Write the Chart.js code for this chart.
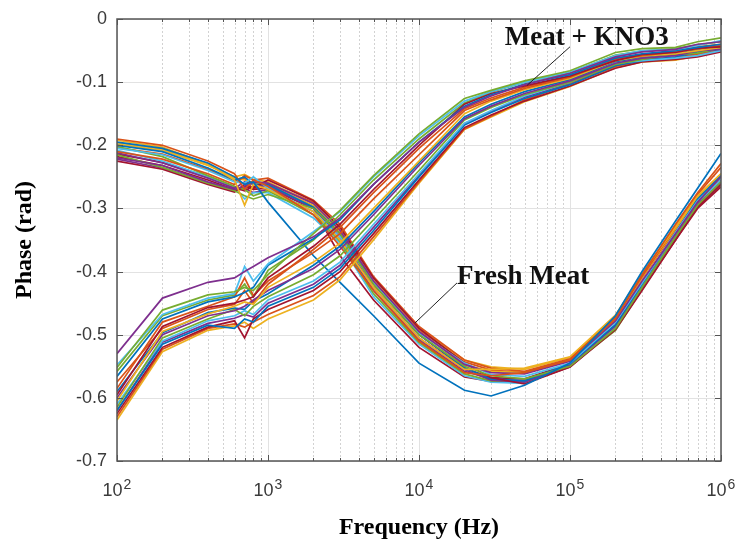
<!DOCTYPE html>
<html>
<head>
<meta charset="utf-8">
<script src="https://cdn.jsdelivr.net/npm/chart.js@4.4.0/dist/chart.umd.min.js"></script>
<style>
  html, body { margin: 0; padding: 0; background: #fff; }
  #wrap { width: 736px; height: 544px; }
</style>
</head>
<body>
<div id="wrap"><canvas id="phaseChart" width="736" height="544"></canvas></div>
<script>
// sweep frequencies (Hz)
const freqs = [100, 200, 400, 600, 700, 800, 1000, 2000, 3000, 5000,
  1e4, 2e4, 3e4, 5e4, 1e5, 2e5, 3e5, 5e5, 7e5, 1e6];

const yTicks = [-0.7, -0.6, -0.5, -0.4, -0.3, -0.2, -0.1, 0];
const xDecades = [1e2, 1e3, 1e4, 1e5, 1e6];
const xTickLabels = [['10', '2'], ['10', '3'], ['10', '4'], ['10', '5'], ['10', '6']];

// Meat + KNO3 samples, phase (rad)
const kno3Series = [
  [-0.530, -0.442, -0.417, -0.410, -0.400, -0.392, -0.378, -0.345, -0.315, -0.262, -0.195, -0.140, -0.122, -0.104, -0.086, -0.060, -0.052, -0.048, -0.040, -0.036],
  [-0.552, -0.461, -0.437, -0.432, -0.425, -0.430, -0.405, -0.340, -0.303, -0.248, -0.182, -0.126, -0.113, -0.098, -0.082, -0.053, -0.047, -0.045, -0.036, -0.030],
  [-0.548, -0.468, -0.442, -0.435, -0.392, -0.415, -0.388, -0.337, -0.305, -0.250, -0.185, -0.130, -0.115, -0.100, -0.084, -0.058, -0.050, -0.048, -0.042, -0.034],
  [-0.566, -0.475, -0.448, -0.440, -0.433, -0.425, -0.390, -0.348, -0.318, -0.262, -0.195, -0.138, -0.120, -0.103, -0.088, -0.062, -0.055, -0.050, -0.045, -0.040],
  [-0.595, -0.487, -0.457, -0.450, -0.445, -0.440, -0.410, -0.360, -0.325, -0.270, -0.200, -0.135, -0.118, -0.106, -0.090, -0.066, -0.056, -0.053, -0.046, -0.044],
  [-0.585, -0.480, -0.455, -0.440, -0.410, -0.438, -0.415, -0.370, -0.340, -0.285, -0.215, -0.145, -0.128, -0.110, -0.092, -0.064, -0.058, -0.052, -0.047, -0.042],
  [-0.605, -0.495, -0.467, -0.455, -0.448, -0.452, -0.425, -0.385, -0.355, -0.300, -0.225, -0.150, -0.130, -0.112, -0.094, -0.066, -0.059, -0.055, -0.050, -0.045],
  [-0.600, -0.500, -0.470, -0.462, -0.455, -0.445, -0.430, -0.395, -0.365, -0.310, -0.232, -0.158, -0.138, -0.118, -0.098, -0.070, -0.062, -0.058, -0.050, -0.048],
  [-0.615, -0.505, -0.475, -0.460, -0.470, -0.455, -0.440, -0.405, -0.375, -0.318, -0.240, -0.160, -0.140, -0.120, -0.100, -0.072, -0.064, -0.056, -0.054, -0.046],
  [-0.610, -0.510, -0.478, -0.470, -0.462, -0.468, -0.445, -0.415, -0.385, -0.325, -0.245, -0.165, -0.145, -0.122, -0.100, -0.070, -0.066, -0.062, -0.058, -0.050],
  [-0.620, -0.515, -0.485, -0.490, -0.475, -0.480, -0.455, -0.425, -0.395, -0.335, -0.250, -0.168, -0.148, -0.126, -0.104, -0.074, -0.066, -0.060, -0.052, -0.048],
  [-0.625, -0.520, -0.488, -0.478, -0.505, -0.475, -0.460, -0.430, -0.400, -0.340, -0.255, -0.172, -0.152, -0.130, -0.106, -0.078, -0.068, -0.064, -0.060, -0.052],
  [-0.630, -0.523, -0.490, -0.483, -0.488, -0.480, -0.468, -0.438, -0.408, -0.345, -0.258, -0.174, -0.154, -0.128, -0.103, -0.075, -0.066, -0.062, -0.056, -0.050],
  [-0.635, -0.527, -0.493, -0.486, -0.480, -0.490, -0.475, -0.445, -0.413, -0.350, -0.260, -0.175, -0.155, -0.131, -0.107, -0.077, -0.068, -0.065, -0.058, -0.050],
  [-0.575, -0.490, -0.460, -0.452, -0.430, -0.450, -0.420, -0.365, -0.330, -0.275, -0.205, -0.142, -0.125, -0.108, -0.091, -0.063, -0.057, -0.051, -0.044, -0.040],
  [-0.590, -0.497, -0.465, -0.458, -0.460, -0.447, -0.435, -0.390, -0.360, -0.305, -0.228, -0.155, -0.135, -0.115, -0.096, -0.068, -0.060, -0.056, -0.048, -0.043],
  [-0.620, -0.512, -0.482, -0.474, -0.468, -0.472, -0.450, -0.420, -0.390, -0.330, -0.248, -0.166, -0.146, -0.124, -0.102, -0.072, -0.064, -0.061, -0.055, -0.047],
  [-0.558, -0.470, -0.445, -0.437, -0.420, -0.440, -0.398, -0.350, -0.310, -0.255, -0.190, -0.133, -0.116, -0.100, -0.085, -0.057, -0.051, -0.047, -0.041, -0.036],
];

// Fresh meat samples, phase (rad)
const freshSeries = [
  [-0.195, -0.205, -0.228, -0.250, -0.262, -0.258, -0.290, -0.375, -0.417, -0.470, -0.545, -0.588, -0.597, -0.580, -0.545, -0.470, -0.400, -0.320, -0.268, -0.213],
  [-0.190, -0.200, -0.225, -0.245, -0.270, -0.255, -0.265, -0.310, -0.360, -0.430, -0.510, -0.560, -0.565, -0.560, -0.540, -0.475, -0.405, -0.325, -0.275, -0.229],
  [-0.192, -0.203, -0.230, -0.255, -0.295, -0.262, -0.270, -0.305, -0.350, -0.425, -0.505, -0.555, -0.555, -0.553, -0.535, -0.469, -0.403, -0.330, -0.280, -0.245],
  [-0.220, -0.232, -0.258, -0.270, -0.265, -0.258, -0.260, -0.292, -0.335, -0.415, -0.495, -0.547, -0.560, -0.562, -0.542, -0.478, -0.415, -0.340, -0.290, -0.250],
  [-0.215, -0.235, -0.260, -0.272, -0.280, -0.285, -0.278, -0.300, -0.340, -0.420, -0.500, -0.550, -0.565, -0.570, -0.550, -0.490, -0.425, -0.345, -0.295, -0.258],
  [-0.205, -0.215, -0.240, -0.258, -0.260, -0.250, -0.268, -0.305, -0.345, -0.418, -0.497, -0.545, -0.563, -0.566, -0.545, -0.480, -0.418, -0.338, -0.288, -0.252],
  [-0.225, -0.238, -0.262, -0.274, -0.262, -0.268, -0.255, -0.288, -0.330, -0.410, -0.490, -0.545, -0.568, -0.578, -0.551, -0.492, -0.430, -0.350, -0.297, -0.262],
  [-0.200, -0.210, -0.236, -0.255, -0.250, -0.262, -0.262, -0.298, -0.340, -0.418, -0.500, -0.552, -0.570, -0.573, -0.546, -0.484, -0.420, -0.338, -0.285, -0.248],
  [-0.210, -0.222, -0.245, -0.262, -0.248, -0.255, -0.252, -0.287, -0.325, -0.408, -0.487, -0.540, -0.553, -0.558, -0.538, -0.472, -0.408, -0.330, -0.278, -0.235],
  [-0.198, -0.208, -0.232, -0.250, -0.246, -0.254, -0.258, -0.293, -0.332, -0.412, -0.490, -0.540, -0.551, -0.555, -0.536, -0.470, -0.405, -0.328, -0.282, -0.248],
  [-0.212, -0.228, -0.252, -0.268, -0.258, -0.262, -0.265, -0.300, -0.345, -0.425, -0.505, -0.555, -0.572, -0.575, -0.548, -0.486, -0.425, -0.345, -0.294, -0.260],
  [-0.202, -0.218, -0.248, -0.265, -0.270, -0.280, -0.272, -0.310, -0.352, -0.435, -0.512, -0.562, -0.573, -0.574, -0.549, -0.493, -0.428, -0.348, -0.296, -0.262],
  [-0.208, -0.225, -0.250, -0.266, -0.285, -0.275, -0.275, -0.315, -0.355, -0.440, -0.515, -0.565, -0.575, -0.577, -0.550, -0.488, -0.422, -0.342, -0.290, -0.256],
  [-0.218, -0.232, -0.255, -0.270, -0.265, -0.270, -0.268, -0.300, -0.375, -0.445, -0.520, -0.567, -0.574, -0.576, -0.551, -0.490, -0.428, -0.350, -0.300, -0.266],
  [-0.196, -0.206, -0.231, -0.252, -0.255, -0.260, -0.262, -0.296, -0.338, -0.416, -0.495, -0.548, -0.558, -0.560, -0.540, -0.476, -0.410, -0.332, -0.283, -0.246],
  [-0.214, -0.227, -0.250, -0.267, -0.272, -0.265, -0.263, -0.296, -0.340, -0.420, -0.500, -0.553, -0.568, -0.570, -0.546, -0.485, -0.420, -0.342, -0.292, -0.255],
  [-0.204, -0.214, -0.238, -0.256, -0.252, -0.270, -0.260, -0.290, -0.330, -0.410, -0.492, -0.543, -0.556, -0.560, -0.540, -0.474, -0.410, -0.335, -0.286, -0.250],
  [-0.222, -0.236, -0.260, -0.272, -0.268, -0.275, -0.270, -0.305, -0.350, -0.430, -0.508, -0.558, -0.570, -0.573, -0.549, -0.489, -0.426, -0.348, -0.298, -0.263],
];

// labels with leader lines, in data coordinates [Hz, rad]
const callouts = [
  { text: 'Meat + KNO3', at: [3.7e4, -0.041], from: [1e5, -0.044], to: [5.2e4, -0.105] },
  { text: 'Fresh Meat', at: [1.785e4, -0.42], from: [1.785e4, -0.418], to: [9.4e3, -0.4815] },
];

// MATLAB default line order
const palette = ['#0072BD', '#D95319', '#EDB120', '#7E2F8E', '#77AC30', '#4DBEEE', '#A2142F'];
const kno3Colors = [3, 4, 5, 0, 6, 1, 2, 3, 4, 5, 0, 6, 1, 2, 1, 0, 3, 4];
const freshColors = [0, 1, 2, 3, 4, 5, 6, 0, 1, 2, 3, 4, 5, 6, 2, 6, 1, 3];

const isDecade = v => Math.abs(Math.log10(v) - Math.round(Math.log10(v))) < 1e-9;

function toDataset(values, colorIdx, name) {
  return {
    label: name,
    data: values.map((v, i) => ({ x: freqs[i], y: v })),
    borderColor: palette[colorIdx],
    borderWidth: 1.7,
    pointRadius: 0,
    tension: 0,
    fill: false,
  };
}

const datasets = [
  ...kno3Series.map((s, i) => toDataset(s, kno3Colors[i], 'KNO3 ' + (i + 1))),
  ...freshSeries.map((s, i) => toDataset(s, freshColors[i], 'Fresh ' + (i + 1))),
];

const matlabFrame = {
  id: 'matlabFrame',
  beforeDatasetsDraw(chart) {
    const { ctx, chartArea: a, scales: { x, y } } = chart;
    ctx.save();
    ctx.lineWidth = 1;
    ctx.strokeStyle = '#d2d2d2';
    ctx.setLineDash([2, 2]);
    x.ticks.forEach(t => {
      if (isDecade(t.value)) return;
      const px = Math.round(x.getPixelForValue(t.value)) + 0.5;
      ctx.beginPath(); ctx.moveTo(px, a.top); ctx.lineTo(px, a.bottom); ctx.stroke();
    });
    ctx.setLineDash([]);
    ctx.strokeStyle = '#e2e2e2';
    x.ticks.forEach(t => {
      if (!isDecade(t.value)) return;
      const px = Math.round(x.getPixelForValue(t.value)) + 0.5;
      ctx.beginPath(); ctx.moveTo(px, a.top); ctx.lineTo(px, a.bottom); ctx.stroke();
    });
    y.ticks.forEach(t => {
      const py = Math.round(y.getPixelForValue(t.value)) + 0.5;
      ctx.beginPath(); ctx.moveTo(a.left, py); ctx.lineTo(a.right, py); ctx.stroke();
    });
    ctx.restore();
  },
  afterDatasetsDraw(chart) {
    const { ctx, chartArea: a, scales: { x, y } } = chart;
    ctx.save();
    // box + inward ticks
    ctx.strokeStyle = '#555';
    ctx.lineWidth = 1.5;
    ctx.strokeRect(a.left, a.top, a.right - a.left, a.bottom - a.top);
    ctx.lineWidth = 1;
    x.ticks.forEach(t => {
      const len = isDecade(t.value) ? 6 : 3;
      const px = Math.round(x.getPixelForValue(t.value)) + 0.5;
      ctx.beginPath();
      ctx.moveTo(px, a.bottom); ctx.lineTo(px, a.bottom - len);
      ctx.moveTo(px, a.top); ctx.lineTo(px, a.top + len);
      ctx.stroke();
    });
    y.ticks.forEach(t => {
      const py = Math.round(y.getPixelForValue(t.value)) + 0.5;
      ctx.beginPath();
      ctx.moveTo(a.left, py); ctx.lineTo(a.left + 6, py);
      ctx.moveTo(a.right, py); ctx.lineTo(a.right - 6, py);
      ctx.stroke();
    });

    // x tick labels as 10 with a raised exponent
    ctx.fillStyle = '#3a3a3a';
    ctx.textBaseline = 'alphabetic';
    ctx.textAlign = 'left';
    const baseFont = '18px "Liberation Sans", Arial, sans-serif';
    const expFont = '14px "Liberation Sans", Arial, sans-serif';
    xDecades.forEach((v, i) => {
      const [base, exp] = xTickLabels[i];
      ctx.font = baseFont;
      const bw = ctx.measureText(base).width;
      ctx.font = expFont;
      const ew = ctx.measureText(exp).width;
      const left = x.getPixelForValue(v) - (bw + ew + 1) / 2;
      ctx.font = baseFont;
      ctx.fillText(base, left, a.bottom + 35);
      ctx.font = expFont;
      ctx.fillText(exp, left + bw + 1, a.bottom + 28);
    });

    // callouts
    ctx.strokeStyle = '#222';
    ctx.fillStyle = '#111';
    ctx.lineWidth = 1;
    ctx.font = 'bold 27px "Liberation Serif", "Times New Roman", serif';
    callouts.forEach(c => {
      ctx.beginPath();
      ctx.moveTo(x.getPixelForValue(c.from[0]), y.getPixelForValue(c.from[1]));
      ctx.lineTo(x.getPixelForValue(c.to[0]), y.getPixelForValue(c.to[1]));
      ctx.stroke();
      ctx.fillText(c.text, x.getPixelForValue(c.at[0]), y.getPixelForValue(c.at[1]));
    });
    ctx.restore();
  },
};

const tickFont = { family: '"Liberation Sans", Arial, sans-serif', size: 18 };
const titleFont = { family: '"Liberation Serif", "Times New Roman", serif', size: 24, weight: 'bold' };

new Chart(document.getElementById('phaseChart'), {
  type: 'line',
  data: { datasets },
  options: {
    responsive: false,
    animation: false,
    devicePixelRatio: 1,
    layout: { padding: { top: 19, right: 15, left: 0, bottom: 0 } },
    plugins: { legend: { display: false }, tooltip: { enabled: false } },
    scales: {
      x: {
        type: 'logarithmic',
        min: 100,
        max: 1e6,
        afterBuildTicks(scale) {
          const ticks = [];
          for (let d = 100; d < 1e6; d *= 10) {
            for (let m = 1; m < 10; m++) ticks.push({ value: d * m });
          }
          ticks.push({ value: 1e6 });
          scale.ticks = ticks;
        },
        afterFit(scale) {
          scale.height = 83;
          scale.paddingLeft = 0;
          scale.paddingRight = 0;
        },
        grid: { display: false, drawTicks: false },
        border: { display: false },
        ticks: { autoSkip: false, maxRotation: 0, callback: () => '' },
        title: { display: true, text: 'Frequency (Hz)', color: '#000', font: titleFont, padding: { top: 0, bottom: 2 } },
      },
      y: {
        min: -0.7,
        max: 0,
        afterBuildTicks(scale) { scale.ticks = yTicks.map(v => ({ value: v })); },
        afterFit(scale) {
          scale.width = 117;
          scale.paddingTop = 0;
          scale.paddingBottom = 0;
        },
        grid: { display: false, drawTicks: false },
        border: { display: false },
        ticks: {
          padding: 10,
          color: '#3a3a3a',
          font: tickFont,
          callback: v => (Math.abs(v) < 1e-9 ? '0' : v.toFixed(1)),
        },
        title: { display: true, text: 'Phase (rad)', color: '#000', font: titleFont, padding: { top: 10, bottom: 0 } },
      },
    },
  },
  plugins: [matlabFrame],
});
</script>
</body>
</html>
